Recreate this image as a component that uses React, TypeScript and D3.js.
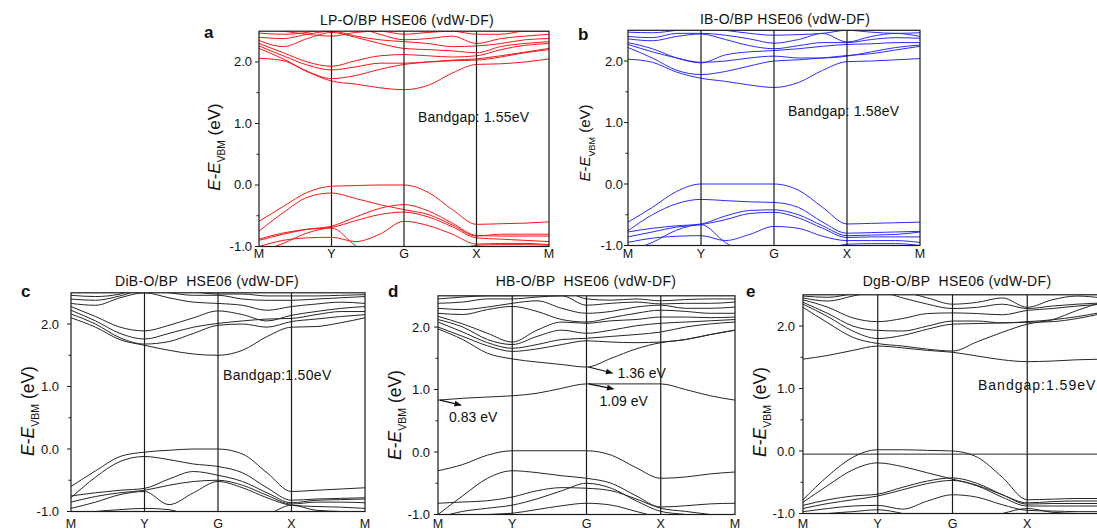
import React from "react";
import * as d3 from "d3";

// k-path sampling: 3 steps per segment, M(0) Y(3) G(6) X(9) M(12)
const kPoints = d3.range(13);
const kLabels = ["M", "Y", "G", "X", "M"];
const kLabelIdx = [0, 3, 6, 9, 12];
const majorTicks = [-1, 0, 1, 2];
const minorTicks = [-0.5, 0.5, 1.5];

// LP-O/BP bands (eV)
const bandsA: number[][] = [
  [-0.59, -0.35, -0.12, -0.02, -0.01, 0.0, 0.0, -0.12, -0.4, -0.64, -0.63, -0.62, -0.6],
  [-0.75, -0.45, -0.2, -0.13, -0.22, -0.32, -0.4, -0.48, -0.65, -0.83, -0.8, -0.8, -0.8],
  [-0.9, -0.8, -0.72, -0.67, -0.52, -0.38, -0.32, -0.42, -0.62, -0.82, -0.83, -0.83, -0.83],
  [-0.88, -0.78, -0.72, -0.69, -0.58, -0.48, -0.44, -0.52, -0.68, -0.86, -0.88, -0.9, -0.92],
  [-1.0, -0.9, -0.86, -0.85, -0.92, -0.8, -0.59, -0.66, -0.8, -0.96, -0.95, -0.95, -0.97],
  [-1.1, -0.95, -0.78, -0.7, -0.99, -1.2, -1.2, -1.2, -1.1, -0.98, -0.97, -0.97, -0.98],
  [2.06, 2.02, 1.84, 1.69, 1.64, 1.58, 1.55, 1.62, 1.82, 1.96, 1.97, 2.0, 2.05],
  [2.22, 2.05, 1.85, 1.73, 1.78, 1.88, 1.96, 2.0, 2.03, 2.05, 2.1, 2.16, 2.22],
  [2.26, 2.1, 1.95, 1.87, 1.92, 1.98, 1.98, 2.0, 2.02, 2.03, 2.08, 2.15, 2.2],
  [2.3, 2.15, 2.0, 1.93, 2.02, 2.1, 2.12, 2.1, 2.08, 2.1, 2.2, 2.27, 2.3],
  [2.35, 2.25, 2.38, 2.48, 2.4, 2.3, 2.22, 2.2, 2.18, 2.15, 2.25, 2.3, 2.33],
  [2.4, 2.38, 2.45, 2.5, 2.42, 2.36, 2.33, 2.3, 2.25, 2.26, 2.3, 2.36, 2.38],
  [2.47, 2.45, 2.48, 2.55, 2.55, 2.45, 2.36, 2.38, 2.42, 2.3, 2.38, 2.42, 2.45],
  [2.55, 2.5, 2.45, 2.42, 2.48, 2.5, 2.45, 2.48, 2.5, 2.45, 2.45, 2.5, 2.5],
];

// IB-O/BP bands (eV)
const bandsB: number[][] = [
  [-0.62, -0.38, -0.12, 0.0, 0.0, 0.0, 0.0, -0.1, -0.38, -0.65, -0.64, -0.63, -0.62],
  [-0.76, -0.5, -0.32, -0.25, -0.27, -0.29, -0.3, -0.38, -0.62, -0.8, -0.79, -0.78, -0.77],
  [-0.78, -0.72, -0.68, -0.65, -0.52, -0.43, -0.42, -0.5, -0.68, -0.84, -0.83, -0.82, -0.78],
  [-0.86, -0.78, -0.7, -0.66, -0.58, -0.48, -0.46, -0.55, -0.72, -0.87, -0.86, -0.86, -0.86],
  [-0.95, -0.88, -0.85, -0.84, -0.92, -0.82, -0.69, -0.72, -0.85, -0.92, -0.92, -0.92, -0.95],
  [-1.1, -0.95, -0.75, -0.66, -0.95, -1.15, -1.2, -1.2, -1.1, -0.98, -0.97, -0.97, -1.0],
  [2.03, 1.98, 1.82, 1.72, 1.67, 1.61, 1.57, 1.65, 1.85, 1.99, 2.0, 2.02, 2.04],
  [2.22, 2.05, 1.85, 1.78, 1.83, 1.92, 2.0, 2.02, 2.05, 2.09, 2.12, 2.18, 2.24],
  [2.27, 2.15, 2.05, 1.98, 2.0, 2.05, 2.08, 2.05, 2.05, 2.08, 2.15, 2.22, 2.26],
  [2.3, 2.2, 2.05, 1.97, 2.1, 2.15, 2.17, 2.2, 2.24, 2.27, 2.28, 2.3, 2.3],
  [2.36, 2.33, 2.4, 2.44, 2.35, 2.25, 2.2, 2.25, 2.3, 2.3, 2.35, 2.38, 2.37],
  [2.4, 2.38, 2.45, 2.45, 2.42, 2.36, 2.29, 2.35, 2.45, 2.31, 2.4, 2.45, 2.4],
  [2.47, 2.46, 2.5, 2.55, 2.5, 2.45, 2.42, 2.43, 2.45, 2.5, 2.47, 2.45, 2.46],
];

// DiB-O/BP bands (eV)
const bandsC: number[][] = [
  [-0.6, -0.35, -0.12, -0.05, -0.02, 0.0, 0.0, -0.08, -0.38, -0.68, -0.66, -0.64, -0.62],
  [-0.78, -0.45, -0.2, -0.12, -0.17, -0.24, -0.28, -0.38, -0.62, -0.82, -0.8, -0.79, -0.78],
  [-0.75, -0.7, -0.66, -0.63, -0.48, -0.36, -0.42, -0.52, -0.7, -0.86, -0.82, -0.81, -0.8],
  [-0.85, -0.76, -0.7, -0.66, -0.58, -0.52, -0.5, -0.58, -0.74, -0.88, -0.85, -0.85, -0.86],
  [-0.95, -0.85, -0.73, -0.68, -0.89, -0.7, -0.52, -0.62, -0.78, -0.9, -0.92, -0.93, -0.95],
  [-1.05, -1.0, -0.97, -0.95, -0.97, -1.1, -1.2, -1.15, -1.05, -0.9, -0.98, -1.0, -1.02],
  [2.1, 1.95, 1.75, 1.66, 1.58, 1.52, 1.5, 1.58, 1.8, 1.95, 1.96, 2.02, 2.1],
  [2.16, 2.0, 1.78, 1.68, 1.72, 1.85, 1.98, 2.0, 1.95, 2.04, 2.08, 2.12, 2.15],
  [2.22, 2.05, 1.85, 1.76, 1.85, 1.95, 2.01, 2.05, 2.08, 2.09, 2.15, 2.2, 2.2],
  [2.28, 2.12, 1.95, 1.89, 1.98, 2.1, 2.21, 2.15, 2.05, 2.14, 2.2, 2.25, 2.28],
  [2.33, 2.3, 2.42, 2.5, 2.42, 2.35, 2.33, 2.3, 2.22, 2.28, 2.32, 2.35, 2.33],
  [2.4, 2.38, 2.45, 2.55, 2.5, 2.46, 2.46, 2.4, 2.38, 2.38, 2.4, 2.42, 2.44],
  [2.46, 2.44, 2.48, 2.6, 2.6, 2.52, 2.48, 2.48, 2.45, 2.45, 2.45, 2.46, 2.47],
];

// HB-O/BP bands (eV), including the two in-gap defect states
const bandsD: number[][] = [
  [-0.3, -0.2, -0.05, 0.02, 0.02, 0.02, 0.02, -0.05, -0.25, -0.42, -0.4, -0.35, -0.32],
  [-1.0, -0.7, -0.42, -0.3, -0.33, -0.38, -0.42, -0.5, -0.7, -0.88, -0.86, -0.83, -0.82],
  [-0.82, -0.8, -0.78, -0.72, -0.62, -0.57, -0.58, -0.62, -0.75, -0.9, -0.95, -1.0, -1.05],
  [-1.05, -0.95, -0.9, -0.85, -0.75, -0.62, -0.5, -0.58, -0.78, -0.95, -1.0, -1.05, -1.1],
  [-1.2, -1.1, -1.0, -0.98, -0.92, -0.86, -0.82, -0.85, -0.95, -1.05, -1.1, -1.1, -1.1],
  [0.83, 0.86, 0.88, 0.9, 0.94, 1.02, 1.09, 1.09, 1.09, 1.09, 1.0, 0.9, 0.83],
  [1.97, 1.8, 1.58, 1.49, 1.44, 1.4, 1.36, 1.5, 1.65, 1.75, 1.8, 1.88, 1.95],
  [2.0, 1.85, 1.7, 1.61, 1.65, 1.72, 1.78, 1.76, 1.75, 1.76, 1.8, 1.88, 1.95],
  [2.08, 1.92, 1.75, 1.66, 1.72, 1.8, 1.82, 1.85, 1.88, 1.92, 2.0, 2.05, 2.08],
  [2.12, 2.0, 1.8, 1.72, 1.85, 1.95, 1.9, 1.95, 2.02, 2.06, 2.08, 2.1, 2.12],
  [2.17, 2.05, 1.9, 1.76, 1.95, 2.08, 2.06, 2.1, 2.12, 2.16, 2.16, 2.15, 2.16],
  [2.22, 2.2, 2.28, 2.33, 2.25, 2.12, 2.08, 2.15, 2.22, 2.27, 2.25, 2.22, 2.22],
  [2.3, 2.28, 2.32, 2.38, 2.42, 2.3, 2.22, 2.25, 2.32, 2.35, 2.3, 2.3, 2.32],
  [2.38, 2.4, 2.45, 2.45, 2.48, 2.5, 2.35, 2.38, 2.4, 2.37, 2.38, 2.38, 2.4],
  [2.45, 2.48, 2.5, 2.5, 2.55, 2.58, 2.45, 2.43, 2.45, 2.42, 2.44, 2.45, 2.45],
];

// DgB-O/BP bands (eV)
const bandsE: number[][] = [
  [-0.05, -0.05, -0.05, -0.05, -0.05, -0.05, -0.05, -0.05, -0.05, -0.05, -0.05, -0.05, -0.05],
  [-0.78, -0.4, -0.1, 0.02, 0.02, 0.01, 0.0, -0.1, -0.42, -0.78, -0.77, -0.76, -0.76],
  [-0.82, -0.55, -0.3, -0.19, -0.25, -0.35, -0.45, -0.55, -0.7, -0.83, -0.81, -0.8, -0.8],
  [-0.87, -0.78, -0.72, -0.69, -0.58, -0.48, -0.43, -0.52, -0.7, -0.85, -0.84, -0.84, -0.84],
  [-0.92, -0.84, -0.78, -0.72, -0.62, -0.52, -0.47, -0.56, -0.74, -0.88, -0.88, -0.88, -0.88],
  [-0.97, -0.92, -0.88, -0.87, -0.93, -0.8, -0.7, -0.74, -0.86, -0.95, -0.96, -0.97, -0.97],
  [-1.05, -1.0, -0.97, -0.94, -1.0, -1.1, -1.15, -1.1, -1.0, -0.92, -0.98, -1.0, -1.02],
  [1.47, 1.53, 1.61, 1.68, 1.65, 1.61, 1.58, 1.52, 1.46, 1.43, 1.44, 1.46, 1.47],
  [2.3, 2.05, 1.82, 1.72, 1.68, 1.63, 1.6, 1.75, 1.9, 2.03, 2.1, 2.25, 2.38],
  [2.35, 2.15, 1.92, 1.8, 1.85, 1.95, 2.03, 2.04, 2.05, 2.06, 2.07, 2.12, 2.2],
  [2.38, 2.2, 2.0, 1.93, 1.92, 2.0, 2.08, 2.08, 2.05, 2.07, 2.1, 2.15, 2.22],
  [2.42, 2.3, 2.13, 2.07, 2.12, 2.2, 2.21, 2.2, 2.18, 2.25, 2.28, 2.32, 2.35],
  [2.45, 2.4, 2.48, 2.55, 2.45, 2.35, 2.28, 2.3, 2.35, 2.28, 2.32, 2.35, 2.37],
  [2.48, 2.46, 2.52, 2.6, 2.55, 2.45, 2.35, 2.38, 2.45, 2.3, 2.42, 2.48, 2.45],
];

// Labelled defect-state energies in panel d: [k index, energy, label]
const defectNotes: [number, number, string][] = [
  [6, 1.36, "1.36 eV"],
  [6, 1.09, "1.09 eV"],
  [0, 0.83, "0.83 eV"],
];

type Panel = {
  id: string;
  letter: string;
  title: string;
  bands: number[][];
  color: string;
  gap?: string;
  left: number;
  right: number;
  yTop: number; // pixel at 2.5 eV
  yBot: number; // pixel at -1.0 eV
  tickGap: number;
  letterPos: [number, number];
  titlePos: [number, number];
  axisTitlePos: [number, number];
  axisTitleSize: number;
  gapPos?: [number, number];
  gapSpacing?: number;
  xLabelY: number;
};

const panels: Panel[] = [
  {
    id: "a", letter: "a", title: "LP-O/BP HSE06 (vdW-DF)", bands: bandsA, color: "#ff1414",
    gap: "Bandgap: 1.55eV",
    left: 259, right: 549, yTop: 31.2, yBot: 246.5, tickGap: 7,
    letterPos: [204, 38], titlePos: [407, 25], axisTitlePos: [220, 147], axisTitleSize: 17,
    gapPos: [418, 122], gapSpacing: 0.2, xLabelY: 258,
  },
  {
    id: "b", letter: "b", title: "IB-O/BP HSE06 (vdW-DF)", bands: bandsB, color: "#2a2aff",
    gap: "Bandgap: 1.58eV",
    left: 628, right: 920, yTop: 30.3, yBot: 245.5, tickGap: 5,
    letterPos: [578, 40], titlePos: [785, 24], axisTitlePos: [590, 143], axisTitleSize: 15,
    gapPos: [788, 116], gapSpacing: 0.2, xLabelY: 258,
  },
  {
    id: "c", letter: "c", title: "DiB-O/BP  HSE06 (vdW-DF)", bands: bandsC, color: "#262626",
    gap: "Bandgap:1.50eV",
    left: 71, right: 365, yTop: 292.8, yBot: 511.5, tickGap: 12,
    letterPos: [21, 297], titlePos: [207, 286], axisTitlePos: [34, 411], axisTitleSize: 17.5,
    gapPos: [223, 380], gapSpacing: 0.3, xLabelY: 528,
  },
  {
    id: "d", letter: "d", title: "HB-O/BP  HSE06 (vdW-DF)", bands: bandsD, color: "#262626",
    left: 438, right: 735, yTop: 295.8, yBot: 514.5, tickGap: 8,
    letterPos: [388, 297], titlePos: [586, 286], axisTitlePos: [401, 415], axisTitleSize: 17.5,
    xLabelY: 528,
  },
  {
    id: "e", letter: "e", title: "DgB-O/BP  HSE06 (vdW-DF)", bands: bandsE, color: "#262626",
    gap: "Bandgap:1.59eV",
    left: 803, right: 1102, yTop: 294.8, yBot: 513.5, tickGap: 8,
    letterPos: [746, 297], titlePos: [957, 286], axisTitlePos: [766, 412], axisTitleSize: 17.5,
    gapPos: [978, 390], gapSpacing: 1.0, xLabelY: 528,
  },
];

const FONT = "Liberation Sans, Arial, Helvetica, sans-serif";

function BandPanel({ p }: { p: Panel }) {
  const x = d3.scaleLinear().domain([0, 12]).range([p.left, p.right]);
  const y = d3.scaleLinear().domain([-1, 2.5]).range([p.yBot, p.yTop]);
  const line = d3
    .line<number>()
    .x((_, i) => x(kPoints[i]))
    .y((v) => y(v))
    .curve(d3.curveMonotoneX);
  const clipId = `clip-${p.id}`;
  const [ax, ay] = p.axisTitlePos;

  return (
    <g>
      <defs>
        <clipPath id={clipId}>
          <rect x={p.left} y={y(2.5)} width={p.right - p.left} height={y(-1) - y(2.5)} />
        </clipPath>
      </defs>
      <g clipPath={`url(#${clipId})`}>
        {p.bands.map((b, i) => (
          <path key={i} d={line(b) ?? ""} fill="none" stroke={p.color} strokeWidth={1} />
        ))}
      </g>
      {/* high-symmetry lines */}
      {kLabelIdx.slice(1, 4).map((k) => (
        <line key={k} x1={x(k)} x2={x(k)} y1={y(2.5)} y2={y(-1)} stroke="#1a1a1a" strokeWidth={1.2} />
      ))}
      {/* frame */}
      <rect
        x={p.left}
        y={y(2.5)}
        width={p.right - p.left}
        height={y(-1) - y(2.5)}
        fill="none"
        stroke="#1a1a1a"
        strokeWidth={1.2}
      />
      {/* y ticks */}
      {majorTicks.map((t) => (
        <g key={t}>
          <line x1={p.left - 4} x2={p.left} y1={y(t)} y2={y(t)} stroke="#1a1a1a" />
          <text
            x={p.left - p.tickGap}
            y={y(t) + 4.5}
            textAnchor="end"
            fontSize={13}
            fontFamily={FONT}
            fill="#111"
          >
            {t.toFixed(1)}
          </text>
        </g>
      ))}
      {minorTicks.map((t) => (
        <line key={t} x1={p.left - 2.5} x2={p.left} y1={y(t)} y2={y(t)} stroke="#1a1a1a" />
      ))}
      {/* k-path labels */}
      {kLabels.map((l, i) => (
        <text
          key={i}
          x={x(kLabelIdx[i])}
          y={p.xLabelY}
          textAnchor="middle"
          fontSize={12.5}
          fontFamily={FONT}
          fill="#111"
        >
          {l}
        </text>
      ))}
      {/* title and panel letter */}
      <text
        x={p.titlePos[0]}
        y={p.titlePos[1]}
        textAnchor="middle"
        fontSize={14}
        letterSpacing={0.3}
        fontFamily={FONT}
        fill="#111"
        style={{ whiteSpace: "pre" }}
      >
        {p.title}
      </text>
      <text x={p.letterPos[0]} y={p.letterPos[1]} fontSize={17} fontWeight="bold" fontFamily={FONT} fill="#111">
        {p.letter}
      </text>
      {/* axis title */}
      <text
        transform={`translate(${ax},${ay}) rotate(-90)`}
        textAnchor="middle"
        fontSize={p.axisTitleSize}
        fontFamily={FONT}
        fill="#111"
        style={{ whiteSpace: "pre" }}
      >
        <tspan fontStyle="italic">E</tspan>
        <tspan>-</tspan>
        <tspan fontStyle="italic">E</tspan>
        <tspan dy={p.axisTitleSize * 0.3} fontSize={p.axisTitleSize * 0.6}>VBM</tspan>
        <tspan dy={-p.axisTitleSize * 0.3}> (eV)</tspan>
      </text>
      {p.gap && p.gapPos && (
        <text
          x={p.gapPos[0]}
          y={p.gapPos[1]}
          fontSize={14}
          fontFamily={FONT}
          fill="#111"
          letterSpacing={p.gapSpacing ?? 0}
        >
          {p.gap}
        </text>
      )}
    </g>
  );
}

function DefectNotes({ p }: { p: Panel }) {
  const x = d3.scaleLinear().domain([0, 12]).range([p.left, p.right]);
  const y = d3.scaleLinear().domain([-1, 2.5]).range([p.yBot, p.yTop]);
  // arrow offsets and text placement for each labelled state
  const arrowDelta: [number, number][] = [
    [24, 6],
    [25, 5],
    [21, 5],
  ];
  const textOffset: [number, number][] = [
    [29, 11],
    [11, 22],
    [9, 22],
  ];
  return (
    <g>
      <defs>
        <marker id="arrowhead" viewBox="0 0 10 10" refX="9" refY="5" markerWidth="7" markerHeight="6" orient="auto">
          <path d="M0,1 L10,5 L0,9 z" fill="#111" />
        </marker>
      </defs>
      {defectNotes.map(([k, e, label], i) => {
        const x0 = x(k) + 2;
        const y0 = y(e);
        const [dx, dy] = arrowDelta[i];
        return (
          <g key={label}>
            <line x1={x0} y1={y0} x2={x0 + dx} y2={y0 + dy} stroke="#111" strokeWidth={1.2} markerEnd="url(#arrowhead)" />
            <text x={x0 + textOffset[i][0]} y={y0 + textOffset[i][1]} fontSize={14} fontFamily={FONT} fill="#111">
              {label}
            </text>
          </g>
        );
      })}
    </g>
  );
}

export default function App() {
  return (
    <svg
      width={1097}
      height={530}
      viewBox="0 0 1097 530"
      style={{ position: "absolute", left: 0, top: 0, background: "#fff" }}
    >
      <rect width={1097} height={530} fill="#fff" />
      {panels.map((p) => (
        <BandPanel key={p.id} p={p} />
      ))}
      <DefectNotes p={panels[3]} />
    </svg>
  );
}
